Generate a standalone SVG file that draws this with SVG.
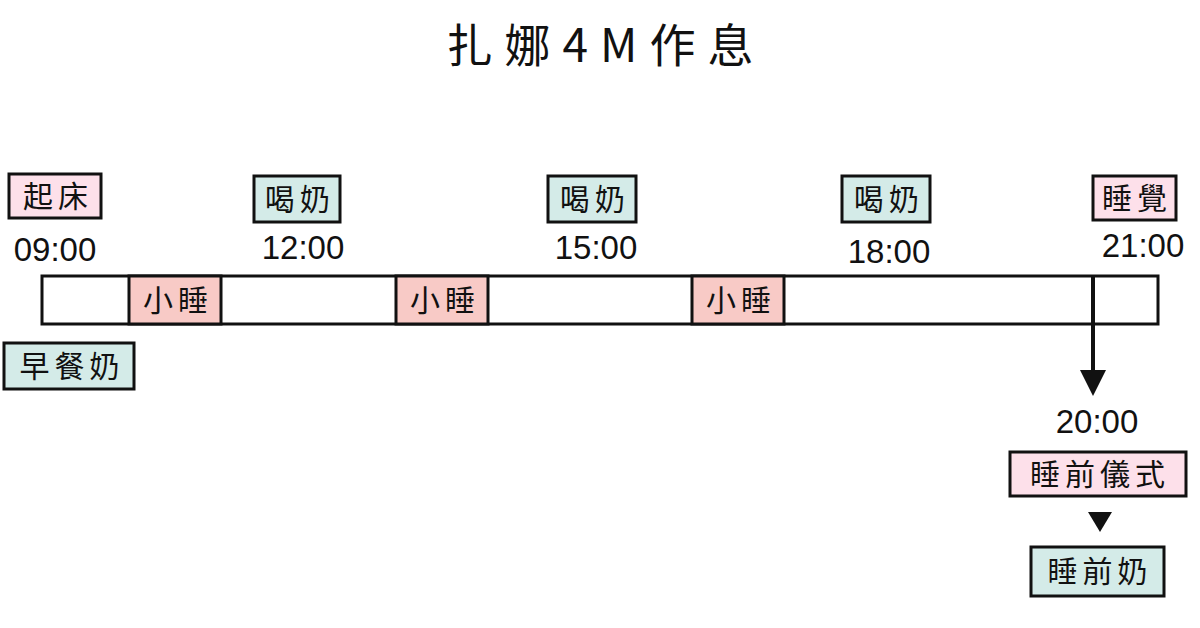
<svg xmlns="http://www.w3.org/2000/svg" width="1200" height="628" viewBox="0 0 1200 628">
<style>
text{font-family:"Noto Sans CJK TC","Noto Sans CJK SC",sans-serif;fill:#111;text-anchor:middle}
.lbl{font-size:30px;letter-spacing:5px}
.time{font-size:33px;font-family:"Liberation Sans","Noto Sans",sans-serif;font-weight:300}
.box{stroke:#111;stroke-width:3}
.pink{fill:#fde0ea}
.teal{fill:#d4ebe8}
.nap{fill:#f8cac6}
</style>
<rect width="1200" height="628" fill="#fff"/>
<text x="606" y="62" font-size="46" letter-spacing="12">扎娜4M作息</text>
<g id="bar">
<rect class="box" x="42" y="276" width="1116" height="48" fill="#fff"/>
</g>
<g id="nap1"><rect class="box nap" x="129" y="276" width="92" height="48"/><text class="lbl" x="178" y="311">小睡</text></g>
<g id="nap2"><rect class="box nap" x="396" y="276" width="92" height="48"/><text class="lbl" x="445" y="311">小睡</text></g>
<g id="nap3"><rect class="box nap" x="692" y="276" width="92" height="48"/><text class="lbl" x="741" y="311">小睡</text></g>
<g id="wake"><rect class="box pink" x="9" y="174" width="92" height="44"/><text class="lbl" x="58" y="207">起床</text><text class="time" x="55" y="261">09:00</text></g>
<g id="milk1"><rect class="box teal" x="254" y="176" width="86" height="46"/><text class="lbl" x="300" y="210">喝奶</text><text class="time" x="303" y="259">12:00</text></g>
<g id="milk2"><rect class="box teal" x="548" y="176" width="88" height="46"/><text class="lbl" x="595" y="210">喝奶</text><text class="time" x="596" y="259">15:00</text></g>
<g id="milk3"><rect class="box teal" x="842" y="176" width="88" height="46"/><text class="lbl" x="889" y="210">喝奶</text><text class="time" x="889" y="263">18:00</text></g>
<g id="sleep"><rect class="box pink" x="1093" y="176" width="83" height="44"/><text class="lbl" x="1137" y="209">睡覺</text><text class="time" x="1143" y="257">21:00</text></g>
<g id="breakfast"><rect class="box teal" x="4" y="343" width="130" height="46"/><text class="lbl" x="72" y="377">早餐奶</text></g>
<g id="connectors">
<line x1="1093" y1="276" x2="1093" y2="372" stroke="#111" stroke-width="4"/>
<polygon points="1080,370 1106,370 1093,396" fill="#111"/>
<polygon points="1088,512 1112,512 1100,532" fill="#111"/>
</g>
<g id="ritual"><text class="time" x="1097" y="433">20:00</text><rect class="box pink" x="1010" y="452" width="176" height="44"/><text class="lbl" x="1100" y="485">睡前儀式</text></g>
<g id="bedmilk"><rect class="box teal" x="1031" y="547" width="133" height="49"/><text class="lbl" x="1100" y="582">睡前奶</text></g>
</svg>
